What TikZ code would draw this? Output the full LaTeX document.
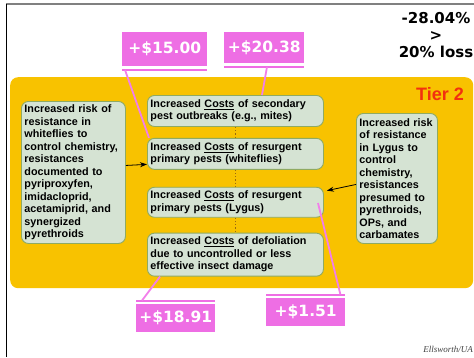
\documentclass[tikz,border=0pt]{standalone}
\usepackage{fontspec}
\setmainfont{Liberation Sans}
\newfontfamily\bigfont{DejaVu Sans}
\newfontfamily\creditfont{Liberation Serif}
\usetikzlibrary{positioning, arrows.meta}
\definecolor{tierorange}{HTML}{F8C200}
\definecolor{boxfill}{HTML}{D5E3D3}
\definecolor{boxedge}{HTML}{8FAA62}
\definecolor{costpink}{HTML}{EE6EE4}
\definecolor{linkpink}{HTML}{F27FEA}
\definecolor{tierred}{HTML}{F2300F}
\definecolor{dotbrown}{HTML}{9A6A10}
\tikzstyle{cbox} = [draw=boxedge, fill=boxfill, rounded corners=7pt, line width=0.9pt, align=left, anchor=north west, inner xsep=3pt, font=\fontsize{10.8}{12.5}\selectfont\bfseries]
\tikzstyle{cost} = [fill=costpink, text=white, anchor=north west, inner sep=0pt, font=\bigfont\bfseries\fontsize{15.5}{18}\selectfont]
\tikzstyle{costbar} = [costpink, line width=2pt]
\tikzstyle{link} = [linkpink, line width=1.8pt]
\tikzstyle{dots} = [dotbrown, dotted, line width=1.2pt]

\begin{document}
\begin{tikzpicture}[x=1pt, y=-1pt, node distance=11pt]
    \useasboundingbox (0,0) rectangle (474,357);

    % frame
    \draw[gray, line width=1.5pt] (6,4) -- (474,4);
    \draw[line width=1pt] (6,4) -- (6,357);

    \node[fill=tierorange, rounded corners=8pt, anchor=north west, inner sep=0pt,
          minimum width=463pt, minimum height=211pt] (tier) at (10,77) {};
    \node[text=tierred, font=\bfseries\fontsize{18}{20}\selectfont, anchor=base east,
          inner sep=0pt] (tiertwo) at (464,100) {Tier 2};
    \node[font=\bigfont\bfseries\fontsize{15}{17}\selectfont, align=center, anchor=north,
          inner sep=0pt] (loss) at (436,12) {-28.04\%\\>\\20\% loss};

    % cost chain
    \node[cbox, text width=170pt, minimum height=31pt] (sec) at (147,95) {
        Increased \underline{Costs} of secondary\\pest outbreaks (e.g., mites)
    };
    \node[cbox, text width=170pt, minimum height=31pt, below=of sec] (white) {
        Increased \underline{Costs} of resurgent\\primary pests (whiteflies)
    };
    \node[cbox, text width=170pt, minimum height=30pt, below=17pt of white] (lygus) {
        Increased \underline{Costs} of resurgent\\primary pests (Lygus)
    };
    \node[cbox, text width=170pt, minimum height=43pt, below=15pt of lygus] (defol) {
        Increased \underline{Costs} of defoliation\\due to uncontrolled or less\\effective insect damage
    };

    % resistance boxes
    \node[cbox, text width=98pt, minimum height=142pt] (wres) at (21,101) {
        Increased risk of\\resistance in\\whiteflies to\\control chemistry,\\resistances\\documented to\\
        pyriproxyfen,\\imidacloprid,\\acetamiprid, and\\synergized\\pyrethroids
    };
    \node[cbox, text width=75pt, minimum height=130pt] (lres) at (356,113) {
        Increased risk\\of resistance\\in Lygus to\\control\\chemistry,\\resistances\\
        presumed to\\pyrethroids,\\OPs, and\\carbamates
    };

    % cost labels
    \node[cost, minimum width=85pt, minimum height=34pt] (c15) at (122,32) {+\$15.00};
    \node[cost, minimum width=80pt, minimum height=31pt] (c20) at (224,32) {+\$20.38};
    \node[cost, minimum width=79pt, minimum height=28pt] (c18) at (136,304) {+\$18.91};
    \node[cost, minimum width=79pt, minimum height=28pt] (c1) at (266,298) {+\$1.51};

    \draw[costbar] ([yshift=-3.5pt]c15.south west) -- ([yshift=-3.5pt]c15.south east);
    \draw[costbar] ([yshift=-3.5pt]c20.south west) -- ([yshift=-3.5pt]c20.south east);
    \draw[costbar] ([yshift=3.5pt]c18.north west) -- ([yshift=3.5pt]c18.north east);
    \draw[costbar] ([yshift=3.5pt]c1.north west) -- ([yshift=3.5pt]c1.north east);

    \coordinate (lygin) at (318,203);

    % links
    \draw[link] ([xshift=3pt, yshift=-3.5pt]c15.south west) -- ([xshift=2pt]white.north west);
    \draw[link] ([xshift=43pt, yshift=-3.5pt]c20.south west) -- ([xshift=115pt]sec.north west);
    \draw[link] ([xshift=6pt, yshift=3.5pt]c18.north west) -- ([xshift=13pt]defol.south west);
    \draw[link] ([xshift=-5pt, yshift=3.5pt]c1.north east) -- (lygin);

    \draw[dots] (sec.south) -- (white.north);
    \draw[dots] (white.south) -- (lygus.north);
    \draw[dots] (lygus.south) -- (defol.north);

    \draw[-{Stealth[length=7pt, width=5pt]}, line width=0.8pt]
        ([yshift=7pt]wres.east) -- ([yshift=-10.5pt]white.west);
    \draw[-{Stealth[length=7pt, width=5pt]}, line width=0.8pt, shorten >=3pt]
        ([yshift=-6pt]lres.west) -- ([yshift=11pt]lygus.east);

    \node[font=\creditfont\itshape\fontsize{9}{10}\selectfont, text=black!75, anchor=base east,
          inner sep=0pt] (credit) at (473,352) {Ellsworth/UA};

\end{tikzpicture}
\end{document}
